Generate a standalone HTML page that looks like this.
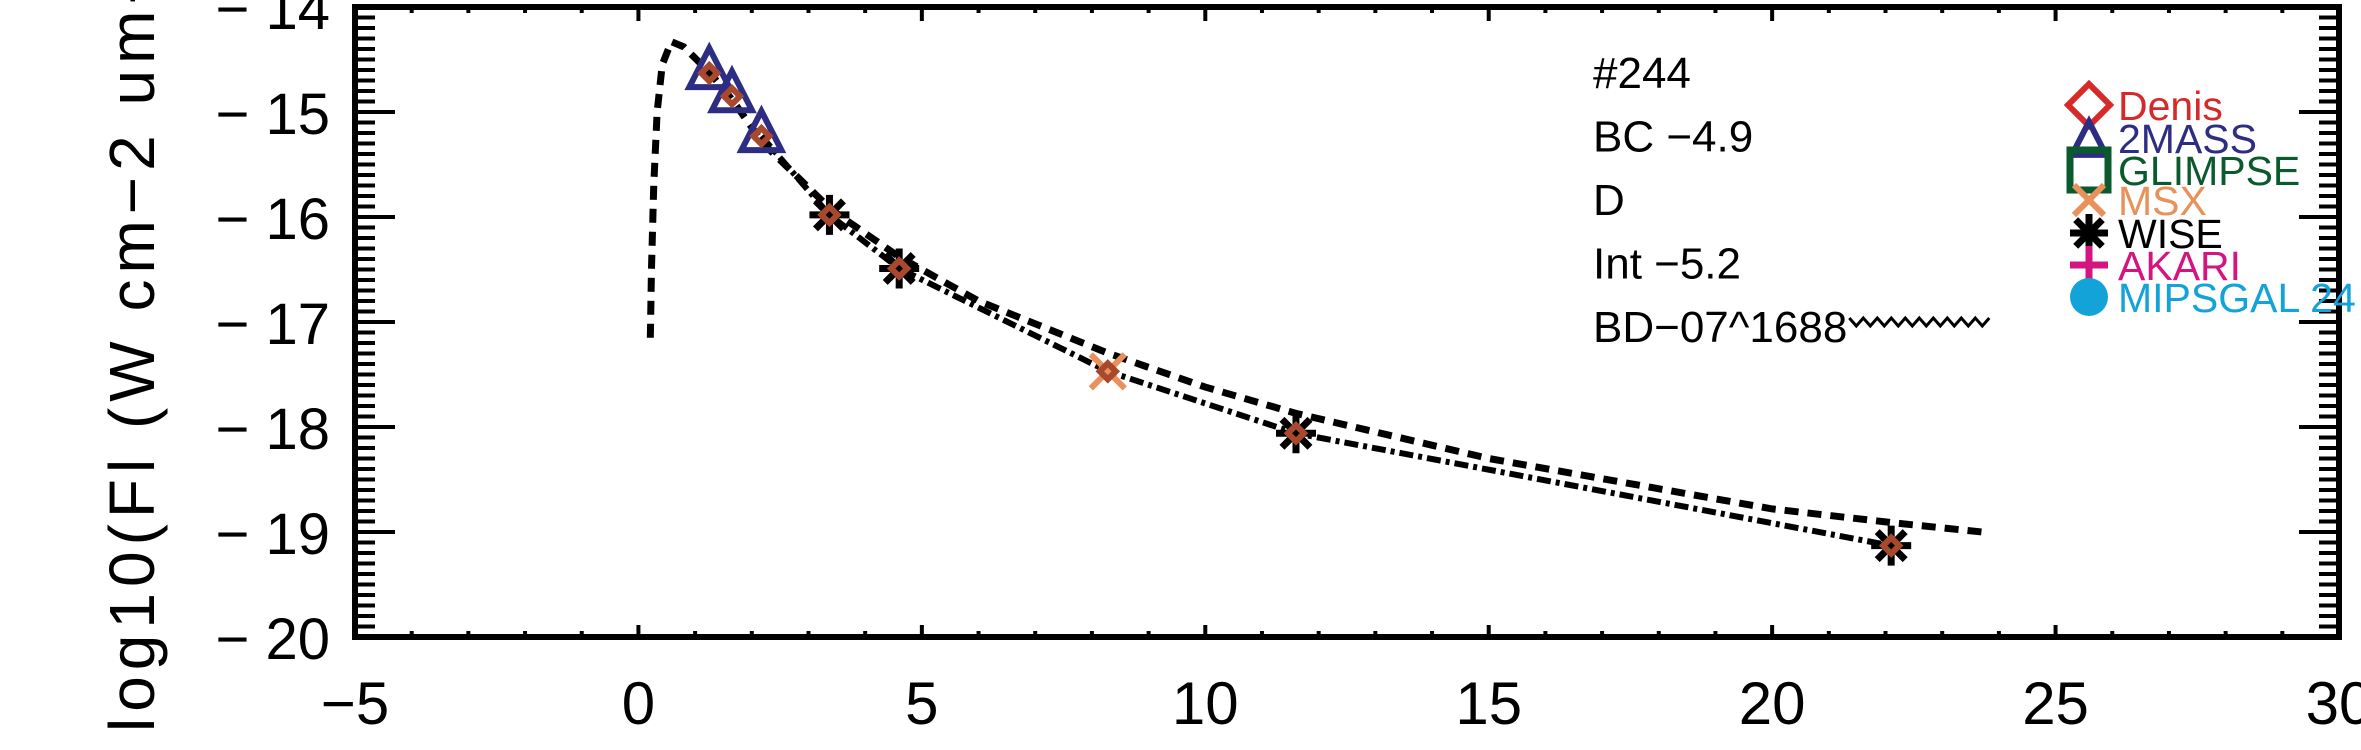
<!DOCTYPE html>
<html><head><meta charset="utf-8"><style>
html,body{margin:0;padding:0;background:#fff;}
svg{display:block;}
text{font-family:"Liberation Sans",sans-serif;}
</style></head><body>
<svg id="chart" width="2361" height="750" viewBox="0 0 2361 750" xmlns="http://www.w3.org/2000/svg">
<g id="layer"></g>
</svg>
<script>
const xTicks=[-5,0,5,10,15,20,25,30];
const yTicks=[-14,-15,-16,-17,-18,-19,-20];
const massX=[1.25,1.65,2.17];
const massY=[-14.63,-14.85,-15.23];
const wiseX=[3.37,4.6,11.6,22.1];
const wiseY=[-15.98,-16.49,-18.06,-19.13];
const msxX=[8.28];
const msxY=[-17.47];
const fitX=[2.17,3.37,4.6,8.28,11.6,22.1];
const fitY=[-15.23,-15.98,-16.49,-17.47,-18.06,-19.13];
const modelX=[0.21,0.23,0.27,0.33,0.42,0.58,0.8,1.25,1.65,2.2,3.0,3.4,4.6,6.0,8.3,10.0,11.6,15.0,20.0,22.1,23.7];
const modelY=[-17.15,-16.5,-15.7,-15.0,-14.55,-14.33,-14.38,-14.62,-14.88,-15.3,-15.72,-15.93,-16.38,-16.8,-17.3,-17.62,-17.87,-18.3,-18.78,-18.91,-19.0];
const infoLines=["#244","BC  \u22124.9","D","Int  \u22125.2","BD\u221207^1688"];
const legendNames=["Denis","2MASS","GLIMPSE","MSX","WISE","AKARI","MIPSGAL  24"];
const legendColors=["#d62a2a","#2e2d84","#0b5a2d","#e8915a","#000000","#d4157f","#13a3d8"];

const L=355,R=2339,T=7,B=637;
const sx=v=>L+(v+5)*(R-L)/35;
const sy=v=>T+(-14-v)*(B-T)/6;
const NS="http://www.w3.org/2000/svg";
const g=document.getElementById('layer');
function mk(tag,attrs,parent){const e=document.createElementNS(NS,tag);for(const k in attrs)e.setAttribute(k,attrs[k]);(parent||g).appendChild(e);return e;}

for(let i=0;i<=60;i++){const v=-14-i*0.1;const y=sy(v);const major=(i%10===0);
 const t=mk('line',{x1:L,x2:L+(major?40:20),y1:y,y2:y,stroke:'#000','stroke-width':4});
 
 
 const t2=mk('line',{x1:R,x2:R-(major?40:20),y1:y,y2:y,stroke:'#000','stroke-width':4});
 
 
}
for(let v=-5;v<=30;v++){const x=sx(v);const major=(v%5===0);
 const t=mk('line',{x1:x,x2:x,y1:B,y2:B-(major?12:6),stroke:'#000','stroke-width':4});
 
 
 const t2=mk('line',{x1:x,x2:x,y1:T,y2:T+(major?14:6),stroke:'#000','stroke-width':4});
 
 
}
const frame=mk('rect',{x:L,y:T,width:R-L,height:B-T,fill:'none',stroke:'#000','stroke-width':6});



xTicks.forEach(v=>{const t=mk('text',{x:sx(v),y:724,'font-size':60,'text-anchor':'middle'});t.textContent=(v<0?'\u2212'+(-v):String(v));
 
 });
yTicks.forEach(v=>{const t=mk('text',{x:330,y:sy(v)+22,'font-size':58,'text-anchor':'end'});t.textContent='\u2212 '+(-v);
 
 });
const yt=mk('text',{x:154,y:732,'font-size':64,'letter-spacing':6,transform:'rotate(-90 154 732)'});
yt.textContent='log10(Fl (W cm\u22122 um\u22121))';



const md=mk('polyline',{points:modelX.map((x,i)=>sx(x)+','+sy(modelY[i])).join(' '),fill:'none',stroke:'#000','stroke-width':7,'stroke-dasharray':'14 9'});


const fd=mk('polyline',{points:fitX.map((x,i)=>sx(x)+','+sy(fitY[i])).join(' '),fill:'none',stroke:'#000','stroke-width':6,'stroke-dasharray':'14 5 4 5'});



function tri(cx,cy,s,col,w,name){const p=mk('polygon',{points:`${cx},${cy-s*1.25} ${cx-s},${cy+s*0.7} ${cx+s},${cy+s*0.7}`,fill:'none',stroke:col,'stroke-width':w});}
function star(cx,cy,s,col,w,name){const gg=mk('g',{stroke:col,'stroke-width':w});
 mk('line',{x1:cx-s,y1:cy,x2:cx+s,y2:cy},gg);mk('line',{x1:cx,y1:cy-s,x2:cx,y2:cy+s},gg);
 mk('line',{x1:cx-s*.7,y1:cy-s*.7,x2:cx+s*.7,y2:cy+s*.7},gg);mk('line',{x1:cx-s*.7,y1:cy+s*.7,x2:cx+s*.7,y2:cy-s*.7},gg);}
function cross(cx,cy,s,col,w,name){const gg=mk('g',{stroke:col,'stroke-width':w});
 mk('line',{x1:cx-s,y1:cy-s,x2:cx+s,y2:cy+s},gg);mk('line',{x1:cx-s,y1:cy+s,x2:cx+s,y2:cy-s},gg);}
function dia(cx,cy,s,col,w,name){const p=mk('polygon',{points:`${cx},${cy-s} ${cx+s},${cy} ${cx},${cy+s} ${cx-s},${cy}`,fill:'none',stroke:col,'stroke-width':w});}

massX.forEach((x,i)=>tri(sx(x),sy(massY[i]),20,'#2e2d84',6,'marker-2mass'));
wiseX.forEach((x,i)=>star(sx(x),sy(wiseY[i]),20,'#000',7,'marker-wise'));
msxX.forEach((x,i)=>cross(sx(x),sy(msxY[i]),17,'#e8915a',6,'marker-msx'));
massX.concat(wiseX,msxX).forEach((x,i)=>{const y=massY.concat(wiseY,msxY)[i];dia(sx(x),sy(y),8,'#a8482c',6,'marker-brown');});

let lastText=null;
infoLines.forEach((s,i)=>{const t=mk('text',{x:1593,y:88+i*63.5,'font-size':44});t.textContent=s;
 
 
 lastText=t;});
let wx=1862;
try{wx=1593+lastText.getComputedTextLength()+2;}catch(e){}
const wv=mk('polyline',{points:Array.from({length:21},(_,i)=>(wx+i*7)+','+(i%2?326:318)).join(' '),fill:'none',stroke:'#000','stroke-width':3});



const ly=[105,138,170,200,233,265,297];
legendNames.forEach((n,i)=>{const c=legendColors[i],x=2089,y=ly[i];
 if(i===0)dia(x,y,21,c,6,'legend-denis-symbol');
 if(i===1)tri(x,y+5,17,c,6,'legend-2mass-symbol');
 if(i===2){const r=mk('rect',{x:x-19,y:y-20,width:38,height:40,fill:'none',stroke:c,'stroke-width':7});}
 if(i===3)cross(x,y,15,c,6,'legend-msx-symbol');
 if(i===4)star(x,y,19,c,7,'legend-wise-symbol');
 if(i===5){const gg=mk('g',{stroke:c,'stroke-width':7});mk('line',{x1:x-19,x2:x+19,y1:y,y2:y},gg);mk('line',{x1:x,x2:x,y1:y-19,y2:y+19},gg);}
 if(i===6){const e=mk('ellipse',{cx:x,cy:y,rx:19,ry:19,fill:c});}
 const t=mk('text',{x:2118,y:y+15,'font-size':41,fill:c});t.textContent=n;
 
 
});
</script>
</body></html>
